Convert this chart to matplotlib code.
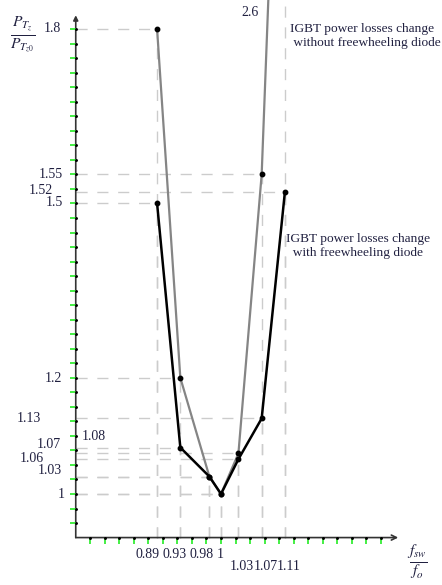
import numpy as np
import matplotlib
matplotlib.use("Agg")
from matplotlib import pyplot as plt

plt.rcParams['font.family'] = ['Liberation Serif', 'DejaVu Serif']
plt.rcParams['mathtext.fontset'] = 'stix'

# relative switching frequency f_sw / f_o
f_ratio        = [0.89, 0.93, 0.98, 1.00, 1.03, 1.07, 1.11]
# relative IGBT losses
loss_no_diode  = [1.80, 1.20, 1.03, 1.00, 1.07, 1.55, 2.60]
loss_diode     = [1.50, 1.08, 1.03, 1.00, 1.06, 1.13, 1.52]

y_tick_labels  = ['1.8', '1.55', '1.52', '1.5', '1.2', '1.13', '1.08', '1.07', '1.06', '1.03', '1']
x_tick_labels  = ['0.89', '0.93', '0.98', '1', '1.03', '1.07', '1.11']

W, H = 442, 585
fig = plt.figure(figsize=(W / 100, H / 100), dpi=100)
ax = fig.add_axes([0, 0, 1, 1])
ax.axis('off')

# one unit = 581 px on both axes, x=1 at px 221, y=1 at px 494
scale = 581.0
ax.set_xlim(1 - 221 / scale, 1 + (W - 221) / scale)
ax.set_ylim(1 - (H - 494) / scale, 1 + 494 / scale)

x0, y0 = 0.75, 0.925
x_end, y_end = 1.305, 1.824

def px(x, y):
    # pixel position -> figure fraction
    return x / W, 1 - y / H

# guide lines from axes to each point
guide = dict(color='#cccccc', lw=1.0, ls=(0, (8, 7)), zorder=1)
for xs, ys in [(f_ratio, loss_no_diode), (f_ratio, loss_diode)]:
    for xv, yv in zip(xs, ys):
        ax.plot([x0, xv], [yv, yv], **guide)
        ax.plot([xv, xv], [y0, yv], **guide)

# curves
ax.plot(f_ratio, loss_no_diode, color='#858585', lw=1.6, zorder=3,
        marker='o', ms=3.2, mfc='black', mec='black')
ax.plot(f_ratio, loss_diode, color='black', lw=1.8, zorder=4,
        marker='o', ms=3.2, mfc='black', mec='black')

# axes with arrows
ax.annotate('', xy=(x0, y_end), xytext=(x0, y0),
            arrowprops=dict(arrowstyle='-|>', color='#333333', lw=1.2,
                            mutation_scale=7, shrinkA=0, shrinkB=0), zorder=5)
ax.annotate('', xy=(x_end, y0), xytext=(x0, y0),
            arrowprops=dict(arrowstyle='->', color='#333333', lw=1.2,
                            mutation_scale=9, shrinkA=0, shrinkB=0), zorder=5)

# small ticks every 0.025
yt = np.arange(0.95, 1.8001, 0.025)
xt = np.arange(0.775, 1.2751, 0.025)
ax.plot([x0] * len(yt), yt, ls='none', marker=0, ms=4, mew=1.4, color='#44ee44', zorder=5)
ax.plot(xt, [y0] * len(xt), ls='none', marker=3, ms=4, mew=1.4, color='#44ee44', zorder=5)
ax.plot([x0] * len(yt), yt, ls='none', marker='o', ms=1.1, color='black', zorder=6)
ax.plot(xt, [y0] * len(xt), ls='none', marker='o', ms=1.1, color='black', zorder=6)

tc = '#202040'
fs = 10

# y tick labels (hand placed, pixel coordinates)
y_lab_pos = [(61, 29), (63, 174), (53, 190), (63, 203), (62, 378), (41, 419),
             (82, 437), (61, 444), (44, 458), (62, 471), (65, 494)]
for lab, (lx, ly) in zip(y_tick_labels, y_lab_pos):
    ha = 'left' if lab == '1.08' else 'right'
    fig.text(*px(lx, ly), lab, ha=ha, va='center', fontsize=fs, color=tc)

# x tick labels
x_lab_pos = [(148, 555), (175, 555), (202, 555), (220, 555),
             (242, 566), (266, 566), (289, 566)]
for lab, (lx, ly) in zip(x_tick_labels, x_lab_pos):
    fig.text(*px(lx, ly), lab, ha='center', va='center', fontsize=fs, color=tc)

fig.text(*px(250, 13), '2.6', ha='center', va='center', fontsize=fs, color=tc)

# axis titles
fig.text(*px(23, 35), r'$\frac{P_{T_z}}{P_{T_{z0}}}$', ha='center', va='center',
         fontsize=16, color=tc)
fig.text(*px(417, 562), r'$\frac{f_{sw}}{f_o}$', ha='center', va='center',
         fontsize=16, color=tc)

# curve annotations
fig.text(*px(290, 36), 'IGBT power losses change\n without freewheeling diode',
         ha='left', va='center', fontsize=9.6, color=tc, linespacing=1.15)
fig.text(*px(286, 246), 'IGBT power losses change\n  with freewheeling diode',
         ha='left', va='center', fontsize=9.6, color=tc, linespacing=1.15)

fig.savefig('out.png', dpi=100)
